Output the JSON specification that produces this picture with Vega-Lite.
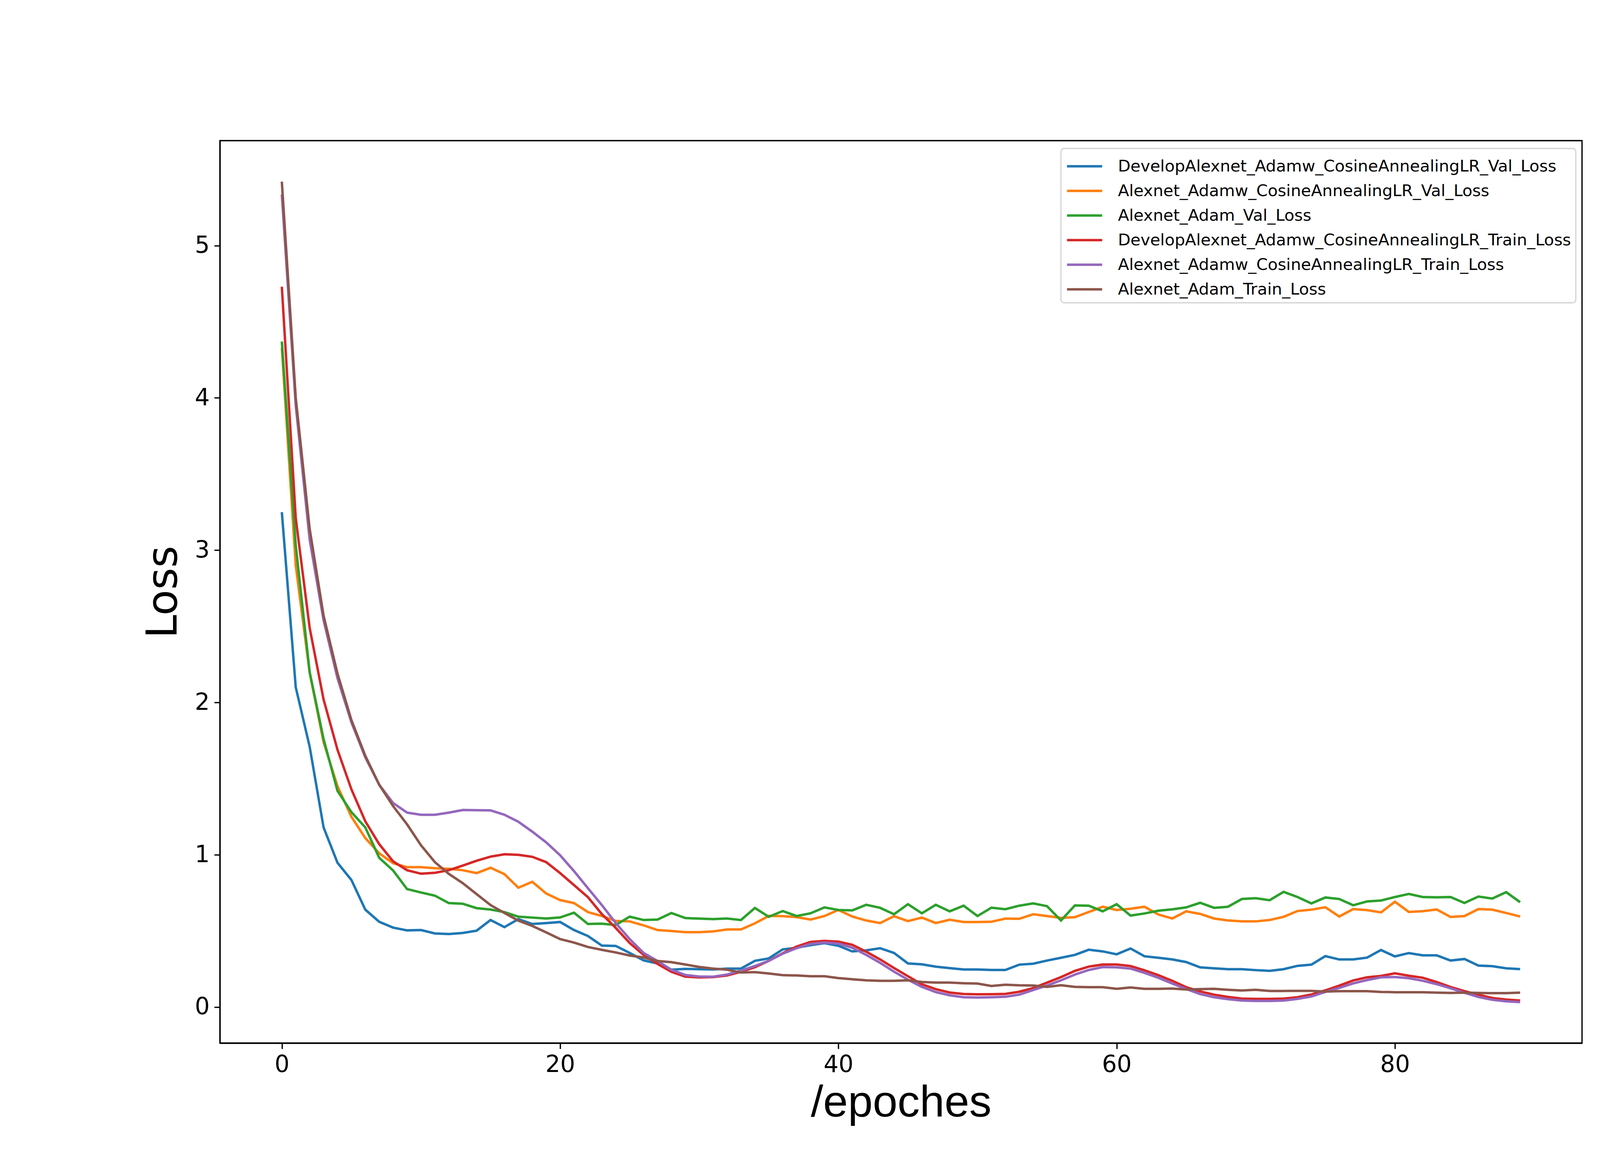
{
  "$schema": "https://vega.github.io/schema/vega-lite/v6.json",
  "width": 3487,
  "height": 2310,
  "autosize": {"type": "none"},
  "padding": {"left": 563, "top": 360, "right": 450, "bottom": 330},
  "background": "white",
  "datasets": {
    "d1": [{"e":0,"v":3.25},{"e":1,"v":2.10},{"e":2,"v":1.71},{"e":3,"v":1.18},{"e":4,"v":0.948},{"e":5,"v":0.835},{"e":6,"v":0.64},{"e":7,"v":0.56},{"e":8,"v":0.522},{"e":9,"v":0.504},{"e":10,"v":0.506},{"e":11,"v":0.484},{"e":12,"v":0.48},{"e":13,"v":0.487},{"e":14,"v":0.502},{"e":15,"v":0.572},{"e":16,"v":0.525},{"e":17,"v":0.578},{"e":18,"v":0.546},{"e":19,"v":0.552},{"e":20,"v":0.559},{"e":21,"v":0.506},{"e":22,"v":0.467},{"e":23,"v":0.404},{"e":24,"v":0.402},{"e":25,"v":0.356},{"e":26,"v":0.307},{"e":27,"v":0.287},{"e":28,"v":0.246},{"e":29,"v":0.251},{"e":30,"v":0.249},{"e":31,"v":0.247},{"e":32,"v":0.253},{"e":33,"v":0.253},{"e":34,"v":0.304},{"e":35,"v":0.32},{"e":36,"v":0.379},{"e":37,"v":0.39},{"e":38,"v":0.407},{"e":39,"v":0.42},{"e":40,"v":0.403},{"e":41,"v":0.366},{"e":42,"v":0.373},{"e":43,"v":0.387},{"e":44,"v":0.356},{"e":45,"v":0.287},{"e":46,"v":0.281},{"e":47,"v":0.266},{"e":48,"v":0.256},{"e":49,"v":0.247},{"e":50,"v":0.247},{"e":51,"v":0.244},{"e":52,"v":0.244},{"e":53,"v":0.279},{"e":54,"v":0.285},{"e":55,"v":0.306},{"e":56,"v":0.324},{"e":57,"v":0.343},{"e":58,"v":0.377},{"e":59,"v":0.366},{"e":60,"v":0.347},{"e":61,"v":0.385},{"e":62,"v":0.334},{"e":63,"v":0.324},{"e":64,"v":0.313},{"e":65,"v":0.296},{"e":66,"v":0.261},{"e":67,"v":0.255},{"e":68,"v":0.249},{"e":69,"v":0.249},{"e":70,"v":0.243},{"e":71,"v":0.238},{"e":72,"v":0.249},{"e":73,"v":0.271},{"e":74,"v":0.279},{"e":75,"v":0.335},{"e":76,"v":0.313},{"e":77,"v":0.313},{"e":78,"v":0.325},{"e":79,"v":0.375},{"e":80,"v":0.333},{"e":81,"v":0.355},{"e":82,"v":0.34},{"e":83,"v":0.34},{"e":84,"v":0.306},{"e":85,"v":0.316},{"e":86,"v":0.273},{"e":87,"v":0.269},{"e":88,"v":0.255},{"e":89,"v":0.25}],
    "d2": [{"e":0,"v":4.33},{"e":1,"v":2.90},{"e":2,"v":2.196},{"e":3,"v":1.74},{"e":4,"v":1.45},{"e":5,"v":1.25},{"e":6,"v":1.11},{"e":7,"v":1.01},{"e":8,"v":0.945},{"e":9,"v":0.919},{"e":10,"v":0.919},{"e":11,"v":0.912},{"e":12,"v":0.908},{"e":13,"v":0.899},{"e":14,"v":0.88},{"e":15,"v":0.915},{"e":16,"v":0.873},{"e":17,"v":0.784},{"e":18,"v":0.823},{"e":19,"v":0.746},{"e":20,"v":0.703},{"e":21,"v":0.683},{"e":22,"v":0.624},{"e":23,"v":0.598},{"e":24,"v":0.566},{"e":25,"v":0.563},{"e":26,"v":0.537},{"e":27,"v":0.506},{"e":28,"v":0.5},{"e":29,"v":0.492},{"e":30,"v":0.492},{"e":31,"v":0.497},{"e":32,"v":0.51},{"e":33,"v":0.51},{"e":34,"v":0.55},{"e":35,"v":0.599},{"e":36,"v":0.597},{"e":37,"v":0.591},{"e":38,"v":0.575},{"e":39,"v":0.598},{"e":40,"v":0.638},{"e":41,"v":0.595},{"e":42,"v":0.569},{"e":43,"v":0.552},{"e":44,"v":0.597},{"e":45,"v":0.565},{"e":46,"v":0.588},{"e":47,"v":0.552},{"e":48,"v":0.574},{"e":49,"v":0.559},{"e":50,"v":0.559},{"e":51,"v":0.561},{"e":52,"v":0.581},{"e":53,"v":0.58},{"e":54,"v":0.61},{"e":55,"v":0.598},{"e":56,"v":0.586},{"e":57,"v":0.591},{"e":58,"v":0.625},{"e":59,"v":0.659},{"e":60,"v":0.638},{"e":61,"v":0.646},{"e":62,"v":0.659},{"e":63,"v":0.608},{"e":64,"v":0.582},{"e":65,"v":0.629},{"e":66,"v":0.612},{"e":67,"v":0.582},{"e":68,"v":0.569},{"e":69,"v":0.563},{"e":70,"v":0.563},{"e":71,"v":0.572},{"e":72,"v":0.593},{"e":73,"v":0.631},{"e":74,"v":0.64},{"e":75,"v":0.656},{"e":76,"v":0.595},{"e":77,"v":0.644},{"e":78,"v":0.637},{"e":79,"v":0.622},{"e":80,"v":0.692},{"e":81,"v":0.625},{"e":82,"v":0.63},{"e":83,"v":0.641},{"e":84,"v":0.592},{"e":85,"v":0.598},{"e":86,"v":0.644},{"e":87,"v":0.64},{"e":88,"v":0.618},{"e":89,"v":0.595}],
    "d3": [{"e":0,"v":4.37},{"e":1,"v":3.03},{"e":2,"v":2.20},{"e":3,"v":1.76},{"e":4,"v":1.42},{"e":5,"v":1.28},{"e":6,"v":1.18},{"e":7,"v":0.98},{"e":8,"v":0.897},{"e":9,"v":0.775},{"e":10,"v":0.753},{"e":11,"v":0.732},{"e":12,"v":0.683},{"e":13,"v":0.679},{"e":14,"v":0.65},{"e":15,"v":0.641},{"e":16,"v":0.624},{"e":17,"v":0.594},{"e":18,"v":0.588},{"e":19,"v":0.582},{"e":20,"v":0.589},{"e":21,"v":0.62},{"e":22,"v":0.546},{"e":23,"v":0.548},{"e":24,"v":0.539},{"e":25,"v":0.594},{"e":26,"v":0.572},{"e":27,"v":0.575},{"e":28,"v":0.618},{"e":29,"v":0.585},{"e":30,"v":0.581},{"e":31,"v":0.578},{"e":32,"v":0.582},{"e":33,"v":0.572},{"e":34,"v":0.651},{"e":35,"v":0.593},{"e":36,"v":0.631},{"e":37,"v":0.598},{"e":38,"v":0.616},{"e":39,"v":0.655},{"e":40,"v":0.638},{"e":41,"v":0.635},{"e":42,"v":0.672},{"e":43,"v":0.652},{"e":44,"v":0.61},{"e":45,"v":0.676},{"e":46,"v":0.616},{"e":47,"v":0.672},{"e":48,"v":0.629},{"e":49,"v":0.666},{"e":50,"v":0.598},{"e":51,"v":0.653},{"e":52,"v":0.643},{"e":53,"v":0.666},{"e":54,"v":0.681},{"e":55,"v":0.663},{"e":56,"v":0.569},{"e":57,"v":0.668},{"e":58,"v":0.666},{"e":59,"v":0.629},{"e":60,"v":0.676},{"e":61,"v":0.601},{"e":62,"v":0.615},{"e":63,"v":0.633},{"e":64,"v":0.642},{"e":65,"v":0.655},{"e":66,"v":0.685},{"e":67,"v":0.652},{"e":68,"v":0.659},{"e":69,"v":0.71},{"e":70,"v":0.715},{"e":71,"v":0.702},{"e":72,"v":0.757},{"e":73,"v":0.723},{"e":74,"v":0.681},{"e":75,"v":0.72},{"e":76,"v":0.71},{"e":77,"v":0.669},{"e":78,"v":0.694},{"e":79,"v":0.7},{"e":80,"v":0.723},{"e":81,"v":0.743},{"e":82,"v":0.723},{"e":83,"v":0.721},{"e":84,"v":0.723},{"e":85,"v":0.684},{"e":86,"v":0.726},{"e":87,"v":0.713},{"e":88,"v":0.755},{"e":89,"v":0.689}],
    "d4": [{"e":0,"v":4.73},{"e":1,"v":3.21},{"e":2,"v":2.49},{"e":3,"v":2.02},{"e":4,"v":1.69},{"e":5,"v":1.43},{"e":6,"v":1.22},{"e":7,"v":1.07},{"e":8,"v":0.957},{"e":9,"v":0.899},{"e":10,"v":0.876},{"e":11,"v":0.882},{"e":12,"v":0.899},{"e":13,"v":0.929},{"e":14,"v":0.961},{"e":15,"v":0.988},{"e":16,"v":1.004},{"e":17,"v":1.0},{"e":18,"v":0.987},{"e":19,"v":0.952},{"e":20,"v":0.88},{"e":21,"v":0.801},{"e":22,"v":0.722},{"e":23,"v":0.611},{"e":24,"v":0.52},{"e":25,"v":0.421},{"e":26,"v":0.343},{"e":27,"v":0.284},{"e":28,"v":0.232},{"e":29,"v":0.2},{"e":30,"v":0.195},{"e":31,"v":0.197},{"e":32,"v":0.208},{"e":33,"v":0.232},{"e":34,"v":0.262},{"e":35,"v":0.304},{"e":36,"v":0.354},{"e":37,"v":0.398},{"e":38,"v":0.428},{"e":39,"v":0.435},{"e":40,"v":0.43},{"e":41,"v":0.409},{"e":42,"v":0.364},{"e":43,"v":0.313},{"e":44,"v":0.257},{"e":45,"v":0.203},{"e":46,"v":0.15},{"e":47,"v":0.118},{"e":48,"v":0.096},{"e":49,"v":0.086},{"e":50,"v":0.084},{"e":51,"v":0.085},{"e":52,"v":0.087},{"e":53,"v":0.101},{"e":54,"v":0.125},{"e":55,"v":0.161},{"e":56,"v":0.197},{"e":57,"v":0.238},{"e":58,"v":0.266},{"e":59,"v":0.28},{"e":60,"v":0.28},{"e":61,"v":0.27},{"e":62,"v":0.242},{"e":63,"v":0.21},{"e":64,"v":0.173},{"e":65,"v":0.131},{"e":66,"v":0.103},{"e":67,"v":0.082},{"e":68,"v":0.067},{"e":69,"v":0.056},{"e":70,"v":0.054},{"e":71,"v":0.054},{"e":72,"v":0.056},{"e":73,"v":0.065},{"e":74,"v":0.083},{"e":75,"v":0.11},{"e":76,"v":0.141},{"e":77,"v":0.175},{"e":78,"v":0.196},{"e":79,"v":0.205},{"e":80,"v":0.222},{"e":81,"v":0.206},{"e":82,"v":0.193},{"e":83,"v":0.165},{"e":84,"v":0.132},{"e":85,"v":0.105},{"e":86,"v":0.082},{"e":87,"v":0.06},{"e":88,"v":0.05},{"e":89,"v":0.043}],
    "d5": [{"e":0,"v":5.335},{"e":1,"v":3.95},{"e":2,"v":3.07},{"e":3,"v":2.54},{"e":4,"v":2.16},{"e":5,"v":1.87},{"e":6,"v":1.64},{"e":7,"v":1.46},{"e":8,"v":1.34},{"e":9,"v":1.277},{"e":10,"v":1.263},{"e":11,"v":1.263},{"e":12,"v":1.277},{"e":13,"v":1.294},{"e":14,"v":1.293},{"e":15,"v":1.292},{"e":16,"v":1.263},{"e":17,"v":1.217},{"e":18,"v":1.152},{"e":19,"v":1.082},{"e":20,"v":0.997},{"e":21,"v":0.893},{"e":22,"v":0.781},{"e":23,"v":0.67},{"e":24,"v":0.552},{"e":25,"v":0.447},{"e":26,"v":0.356},{"e":27,"v":0.303},{"e":28,"v":0.245},{"e":29,"v":0.211},{"e":30,"v":0.201},{"e":31,"v":0.2},{"e":32,"v":0.214},{"e":33,"v":0.24},{"e":34,"v":0.27},{"e":35,"v":0.304},{"e":36,"v":0.351},{"e":37,"v":0.387},{"e":38,"v":0.415},{"e":39,"v":0.424},{"e":40,"v":0.417},{"e":41,"v":0.39},{"e":42,"v":0.343},{"e":43,"v":0.291},{"e":44,"v":0.233},{"e":45,"v":0.18},{"e":46,"v":0.133},{"e":47,"v":0.099},{"e":48,"v":0.078},{"e":49,"v":0.065},{"e":50,"v":0.063},{"e":51,"v":0.065},{"e":52,"v":0.068},{"e":53,"v":0.082},{"e":54,"v":0.112},{"e":55,"v":0.142},{"e":56,"v":0.176},{"e":57,"v":0.214},{"e":58,"v":0.244},{"e":59,"v":0.263},{"e":60,"v":0.261},{"e":61,"v":0.253},{"e":62,"v":0.225},{"e":63,"v":0.193},{"e":64,"v":0.155},{"e":65,"v":0.119},{"e":66,"v":0.086},{"e":67,"v":0.065},{"e":68,"v":0.052},{"e":69,"v":0.043},{"e":70,"v":0.041},{"e":71,"v":0.041},{"e":72,"v":0.043},{"e":73,"v":0.054},{"e":74,"v":0.07},{"e":75,"v":0.1},{"e":76,"v":0.126},{"e":77,"v":0.156},{"e":78,"v":0.178},{"e":79,"v":0.196},{"e":80,"v":0.198},{"e":81,"v":0.19},{"e":82,"v":0.173},{"e":83,"v":0.151},{"e":84,"v":0.124},{"e":85,"v":0.095},{"e":86,"v":0.067},{"e":87,"v":0.048},{"e":88,"v":0.038},{"e":89,"v":0.033}],
    "d6": [{"e":0,"v":5.42},{"e":1,"v":4.0},{"e":2,"v":3.14},{"e":3,"v":2.57},{"e":4,"v":2.19},{"e":5,"v":1.885},{"e":6,"v":1.65},{"e":7,"v":1.46},{"e":8,"v":1.32},{"e":9,"v":1.2},{"e":10,"v":1.063},{"e":11,"v":0.952},{"e":12,"v":0.875},{"e":13,"v":0.814},{"e":14,"v":0.742},{"e":15,"v":0.67},{"e":16,"v":0.618},{"e":17,"v":0.568},{"e":18,"v":0.533},{"e":19,"v":0.491},{"e":20,"v":0.447},{"e":21,"v":0.424},{"e":22,"v":0.395},{"e":23,"v":0.376},{"e":24,"v":0.359},{"e":25,"v":0.339},{"e":26,"v":0.326},{"e":27,"v":0.303},{"e":28,"v":0.295},{"e":29,"v":0.28},{"e":30,"v":0.264},{"e":31,"v":0.253},{"e":32,"v":0.246},{"e":33,"v":0.227},{"e":34,"v":0.23},{"e":35,"v":0.221},{"e":36,"v":0.21},{"e":37,"v":0.208},{"e":38,"v":0.203},{"e":39,"v":0.203},{"e":40,"v":0.191},{"e":41,"v":0.183},{"e":42,"v":0.176},{"e":43,"v":0.173},{"e":44,"v":0.173},{"e":45,"v":0.176},{"e":46,"v":0.165},{"e":47,"v":0.161},{"e":48,"v":0.161},{"e":49,"v":0.157},{"e":50,"v":0.155},{"e":51,"v":0.139},{"e":52,"v":0.147},{"e":53,"v":0.143},{"e":54,"v":0.142},{"e":55,"v":0.133},{"e":56,"v":0.144},{"e":57,"v":0.133},{"e":58,"v":0.131},{"e":59,"v":0.131},{"e":60,"v":0.12},{"e":61,"v":0.129},{"e":62,"v":0.12},{"e":63,"v":0.12},{"e":64,"v":0.122},{"e":65,"v":0.116},{"e":66,"v":0.118},{"e":67,"v":0.12},{"e":68,"v":0.114},{"e":69,"v":0.109},{"e":70,"v":0.114},{"e":71,"v":0.106},{"e":72,"v":0.106},{"e":73,"v":0.107},{"e":74,"v":0.107},{"e":75,"v":0.102},{"e":76,"v":0.105},{"e":77,"v":0.105},{"e":78,"v":0.105},{"e":79,"v":0.1},{"e":80,"v":0.098},{"e":81,"v":0.098},{"e":82,"v":0.098},{"e":83,"v":0.095},{"e":84,"v":0.093},{"e":85,"v":0.095},{"e":86,"v":0.093},{"e":87,"v":0.092},{"e":88,"v":0.092},{"e":89,"v":0.095}]
  },
  "encoding": {
    "x": {"field": "e", "type": "quantitative",
      "scale": {"domain": [-4.45, 93.45], "nice": false, "zero": false},
      "axis": {"values": [0, 20, 40, 60, 80], "format": "d", "title": "/epoches",
        "titleFont": "Liberation Sans", "titleFontSize": 114, "titleFontWeight": "normal", "titlePadding": 12}},
    "y": {"field": "v", "type": "quantitative",
      "scale": {"domain": [-0.236, 5.689], "nice": false, "zero": false},
      "axis": {"values": [0, 1, 2, 3, 4, 5], "format": "d", "title": "Loss",
        "titleFont": "DejaVu Sans", "titleFontSize": 108, "titleFontWeight": "normal", "titlePadding": 24}}
  },
  "layer": [
    {"data": {"name": "d1"}, "mark": {"type": "line", "strokeWidth": 6.25},
     "encoding": {"color": {"datum": "DevelopAlexnet_Adamw_CosineAnnealingLR_Val_Loss", "type": "nominal",
       "scale": {"domain": ["DevelopAlexnet_Adamw_CosineAnnealingLR_Val_Loss", "Alexnet_Adamw_CosineAnnealingLR_Val_Loss", "Alexnet_Adam_Val_Loss", "DevelopAlexnet_Adamw_CosineAnnealingLR_Train_Loss", "Alexnet_Adamw_CosineAnnealingLR_Train_Loss", "Alexnet_Adam_Train_Loss"],
                 "range": ["#1f77b4", "#ff7f0e", "#2ca02c", "#d62728", "#9467bd", "#8c564b"]},
       "legend": {"title": null, "orient": "none", "legendX": 2153, "legendY": 20}}}},
    {"data": {"name": "d2"}, "mark": {"type": "line", "strokeWidth": 6.25},
     "encoding": {"color": {"datum": "Alexnet_Adamw_CosineAnnealingLR_Val_Loss", "type": "nominal"}}},
    {"data": {"name": "d3"}, "mark": {"type": "line", "strokeWidth": 6.25},
     "encoding": {"color": {"datum": "Alexnet_Adam_Val_Loss", "type": "nominal"}}},
    {"data": {"name": "d4"}, "mark": {"type": "line", "strokeWidth": 6.25},
     "encoding": {"color": {"datum": "DevelopAlexnet_Adamw_CosineAnnealingLR_Train_Loss", "type": "nominal"}}},
    {"data": {"name": "d5"}, "mark": {"type": "line", "strokeWidth": 6.25},
     "encoding": {"color": {"datum": "Alexnet_Adamw_CosineAnnealingLR_Train_Loss", "type": "nominal"}}},
    {"data": {"name": "d6"}, "mark": {"type": "line", "strokeWidth": 6.25},
     "encoding": {"color": {"datum": "Alexnet_Adam_Train_Loss", "type": "nominal"}}}
  ],
  "config": {
    "view": {"stroke": "black", "strokeWidth": 3.3},
    "axis": {
      "grid": false,
      "domainColor": "black", "domainWidth": 3.3,
      "tickColor": "black", "tickWidth": 3.3, "tickSize": 14.6,
      "labelFont": "DejaVu Sans", "labelFontSize": 60, "labelColor": "black", "labelPadding": 12,
      "titleColor": "black"
    },
    "legend": {
      "labelFont": "DejaVu Sans", "labelFontSize": 41.7, "labelColor": "black", "labelLimit": 3000,
      "symbolType": "M-1,0H2", "symbolSize": 3600, "symbolStrokeWidth": 6.25,
      "strokeColor": "#d6d6d6", "strokeWidth": 3.3, "fillColor": "rgba(255,255,255,0.8)",
      "padding": 12, "cornerRadius": 8, "rowPadding": 7, "labelOffset": 67
    }
  }
}
